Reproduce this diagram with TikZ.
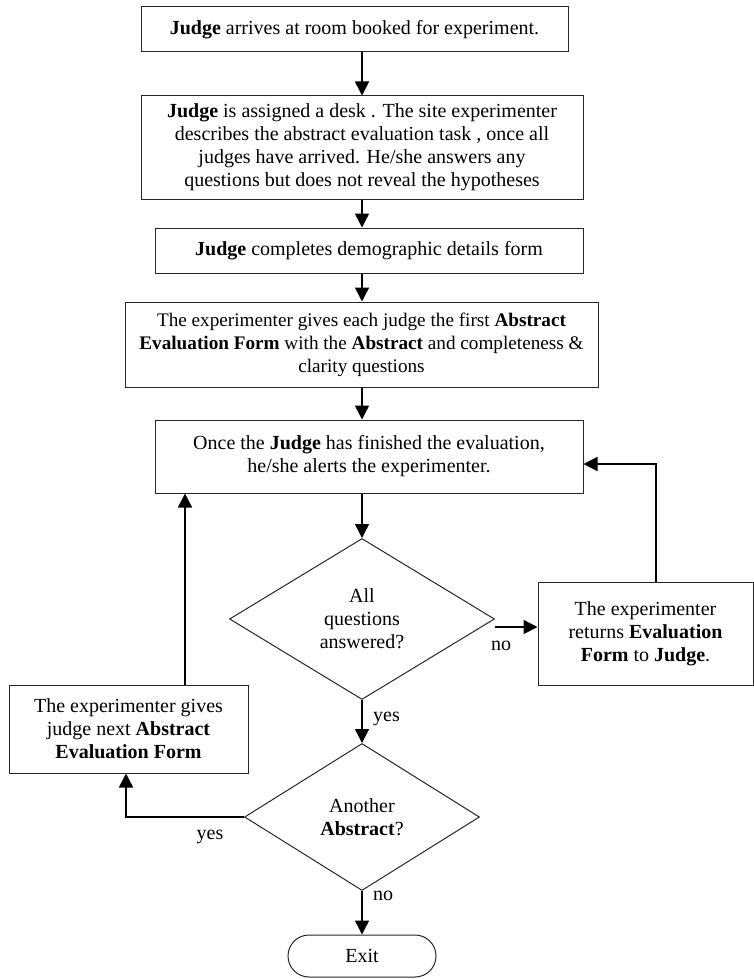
\documentclass[tikz,border=0pt]{standalone}
\usepackage{fontspec}
\setmainfont{Liberation Serif}
\usetikzlibrary{shapes.geometric,arrows.meta}
\begin{document}
\begin{tikzpicture}[x=1pt,y=-1pt,
  every node/.style={font=\fontsize{20}{23}\selectfont},
  box/.style={draw=black!85,line width=1pt,rectangle,inner sep=0pt,align=center},
  dia/.style={draw=black!85,line width=1pt,diamond,inner sep=0pt,align=center},
  arr/.style={line width=1.5pt,-{Triangle[length=14pt,width=14pt]}},
  lab/.style={inner sep=0pt}]
\useasboundingbox (0,0) rectangle (754,979);
\node[box,minimum width=427pt,minimum height=45pt] (b1) at (354.5,29.5)
  {\textbf{Judge} arrives at room booked for experiment.};
\node[box,minimum width=442pt,minimum height=103pt] (b2) at (362,147.5)
  {\textbf{Judge} is assigned a desk . The site experimenter\\describes the abstract evaluation task , once all\\judges have arrived. He/she answers any\\questions but does not reveal the hypotheses};
\node[box,minimum width=428pt,minimum height=45pt] (b3) at (369,250.5)
  {\textbf{Judge} completes demographic details form};
\node[box,minimum width=473pt,minimum height=85pt,font=\fontsize{19.2}{23}\selectfont] (b4) at (361.5,344.5)
  {The experimenter gives each judge the first \textbf{Abstract}\\\textbf{Evaluation Form} with the \textbf{Abstract} and completeness \&\\clarity questions};
\node[box,minimum width=428pt,minimum height=73pt] (b5) at (369,456.5)
  {Once the \textbf{Judge} has finished the evaluation,\\he/she alerts the experimenter.};
\node[dia,aspect=1.646,minimum width=265pt,minimum height=161pt] (d1) at (362,619)
  {All\\questions\\answered?};
\node[box,minimum width=215pt,minimum height=103pt] (rb) at (645.5,633.5)
  {The experimenter\\returns \textbf{Evaluation}\\\textbf{Form} to \textbf{Judge}.};
\node[box,minimum width=239pt,minimum height=88pt] (lb) at (128.5,729)
  {The experimenter gives\\judge next \textbf{Abstract}\\\textbf{Evaluation Form}};
\node[dia,aspect=1.6,minimum width=235pt,minimum height=147pt] (d2) at (362,817)
  {Another\\\textbf{Abstract}?};
\node[box,rounded corners=21pt,minimum width=148pt,minimum height=42pt] (ex) at (362,956) {Exit};
\node[lab,anchor=west] (lno1) at (491,646) {no};
\node[lab,anchor=west] (lyes1) at (373,719) {yes};
\node[lab] (lyes2) at (210,837) {yes};
\node[lab,anchor=west] (lno2) at (373,896) {no};
\draw[arr] (b1.south -| d1.north) -- (b2.north -| d1.north);
\draw[arr] (b2.south -| d1.north) -- (b3.north -| d1.north);
\draw[arr] (b3.south -| d1.north) -- (b4.north -| d1.north);
\draw[arr] (b4.south -| d1.north) -- (b5.north -| d1.north);
\draw[arr] (b5.south -| d1.north) -- (d1.north);
\draw[arr] (d1.south) -- (d2.north);
\draw[arr] (d2.south) -- (ex.north);
\draw[arr] ([yshift=-8pt]d1.east) -- ([yshift=-8pt]d1.east -| rb.west);
\draw[arr] ([xshift=10.5pt]rb.north) |- ([yshift=-7.5pt]b5.east);
\draw[arr] ([xshift=56.5pt]lb.north) -- ([xshift=56.5pt]lb.north |- b5.south);
\draw[arr] (d2.west) -| ([xshift=-2.5pt]lb.south);
\end{tikzpicture}
\end{document}
